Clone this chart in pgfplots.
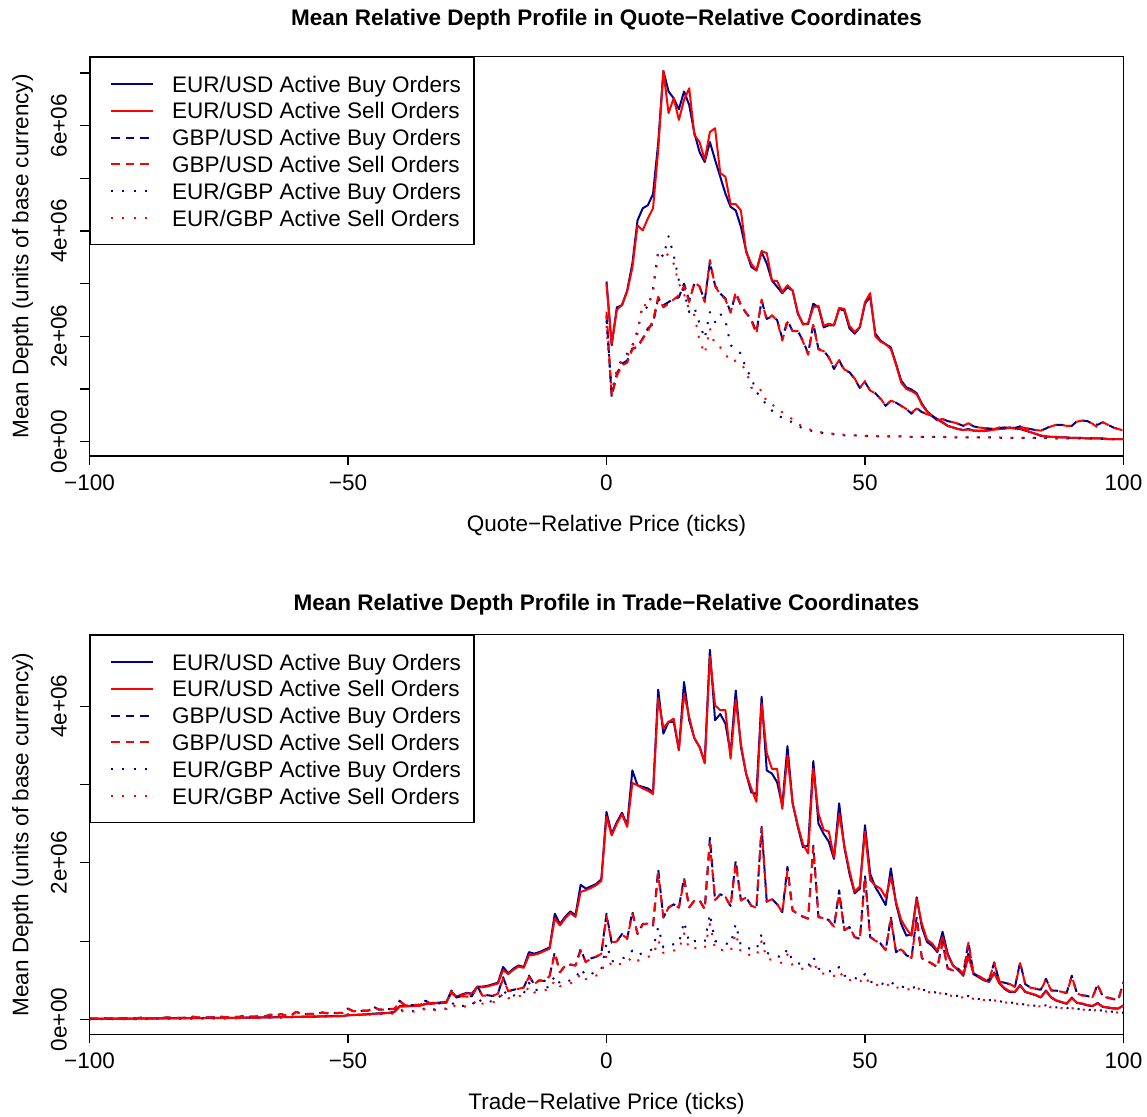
\documentclass[border=0pt]{standalone}
\usepackage{fontspec}
\setmainfont{Liberation Sans}
\usepackage{pgfplots}
\usepackage{pgfplotstable}
\pgfplotsset{compat=1.18}

\definecolor{buyblue}{HTML}{00008B}
\definecolor{sellred}{HTML}{FF0000}
\newcommand{\lblfont}{\fontsize{11.25}{13.4}\selectfont}

% Mean depth (millions of base currency) by quote-relative price
% columns: EUR/USD buy, sell; GBP/USD buy, sell; EUR/GBP buy, sell
\pgfplotstableread{
x eub eus gub gus egb egs
0 3.04 3.00 2.40 2.47 2.30 2.20
1 1.83 1.85 0.85 0.88 0.95 0.90
2 2.55 2.50 1.29 1.25 1.35 1.30
3 2.59 2.60 1.48 1.45 1.58 1.55
4 2.87 2.85 1.54 1.50 1.67 1.62
5 3.38 3.30 1.77 1.75 1.83 1.80
6 4.20 4.11 1.79 1.82 2.11 2.05
7 4.43 4.01 1.96 1.95 2.59 2.62
8 4.49 4.24 2.15 2.10 2.53 2.56
9 4.70 4.43 2.24 2.30 2.91 2.85
10 5.67 5.54 2.72 2.75 3.63 3.55
11 7.04 7.04 2.59 2.55 3.51 3.60
12 6.65 6.24 2.65 2.62 3.90 3.54
13 6.52 6.52 2.71 2.70 3.54 3.38
14 6.31 6.11 2.74 2.78 3.06 3.00
15 6.65 6.49 3.00 2.95 2.84 2.80
16 6.39 6.71 2.68 2.65 2.46 2.50
17 5.86 5.82 3.00 3.02 2.55 2.40
18 5.50 5.69 2.94 2.95 2.24 1.92
19 5.31 5.35 2.68 2.65 1.96 1.67
20 5.69 5.88 3.41 3.45 2.46 2.15
21 5.35 5.95 2.97 2.95 2.27 1.83
22 5.03 5.10 2.81 2.80 2.43 1.79
23 4.71 5.03 2.72 2.70 2.30 1.67
24 4.46 4.51 2.46 2.45 1.83 1.51
25 4.39 4.51 2.81 2.84 1.76 1.54
26 4.08 4.39 2.59 2.60 1.67 1.48
27 3.63 3.60 2.44 2.45 1.38 1.35
28 3.32 3.38 2.33 2.30 1.22 1.03
29 3.25 3.25 2.08 2.05 0.94 0.94
30 3.60 3.62 2.68 2.70 0.84 0.99
31 3.38 3.58 2.33 2.30 0.68 0.75
32 3.06 3.06 2.38 2.40 0.59 0.72
33 2.94 3.05 2.31 2.30 0.49 0.60
34 2.82 2.84 1.96 1.92 0.46 0.56
35 2.93 2.97 2.30 2.27 0.42 0.50
36 2.87 2.87 2.10 2.10 0.36 0.42
37 2.43 2.45 2.10 2.10 0.30 0.34
38 2.24 2.22 1.92 1.90 0.25 0.28
39 2.23 2.25 1.67 1.65 0.22 0.24
40 2.62 2.55 2.24 2.22 0.20 0.21
41 2.55 2.58 1.76 1.75 0.18 0.19
42 2.17 2.20 1.73 1.72 0.16 0.17
43 2.21 2.24 1.60 1.60 0.15 0.16
44 2.21 2.21 1.38 1.40 0.14 0.15
45 2.52 2.54 1.55 1.55 0.13 0.14
46 2.49 2.52 1.35 1.37 0.12 0.13
47 2.15 2.20 1.32 1.32 0.12 0.12
48 2.05 2.08 1.19 1.20 0.12 0.12
49 2.17 2.18 1.02 1.02 0.11 0.12
50 2.62 2.65 1.13 1.15 0.11 0.11
51 2.75 2.82 0.97 0.97 0.11 0.11
52 2.05 2.00 0.92 0.92 0.10 0.11
53 1.92 1.90 0.81 0.82 0.10 0.10
54 1.85 1.85 0.68 0.68 0.10 0.10
55 1.79 1.76 0.78 0.78 0.10 0.10
56 1.48 1.46 0.74 0.74 0.10 0.10
57 1.16 1.12 0.68 0.68 0.10 0.10
58 1.03 1.00 0.62 0.62 0.09 0.10
59 0.99 0.96 0.53 0.55 0.09 0.09
60 0.92 0.90 0.64 0.63 0.09 0.09
61 0.72 0.70 0.56 0.56 0.09 0.09
62 0.58 0.57 0.53 0.52 0.09 0.09
63 0.49 0.48 0.49 0.49 0.09 0.09
64 0.43 0.42 0.40 0.41 0.09 0.09
65 0.37 0.36 0.43 0.43 0.09 0.09
66 0.30 0.30 0.39 0.39 0.08 0.09
67 0.27 0.27 0.37 0.37 0.08 0.08
68 0.24 0.24 0.34 0.34 0.08 0.08
69 0.22 0.22 0.30 0.30 0.08 0.08
70 0.24 0.23 0.35 0.35 0.08 0.08
71 0.21 0.21 0.29 0.29 0.08 0.08
72 0.21 0.20 0.27 0.27 0.08 0.08
73 0.21 0.20 0.25 0.26 0.08 0.08
74 0.22 0.21 0.25 0.25 0.08 0.08
75 0.24 0.23 0.24 0.24 0.08 0.08
76 0.24 0.24 0.26 0.27 0.07 0.08
77 0.25 0.25 0.27 0.27 0.07 0.07
78 0.27 0.26 0.26 0.26 0.07 0.07
79 0.25 0.26 0.26 0.25 0.07 0.07
80 0.24 0.25 0.29 0.28 0.07 0.07
81 0.21 0.22 0.26 0.26 0.07 0.07
82 0.18 0.18 0.24 0.22 0.07 0.07
83 0.15 0.15 0.22 0.22 0.07 0.07
84 0.11 0.12 0.21 0.21 0.07 0.07
85 0.10 0.10 0.25 0.24 0.07 0.07
86 0.09 0.09 0.30 0.29 0.06 0.07
87 0.09 0.09 0.32 0.32 0.06 0.06
88 0.08 0.08 0.32 0.32 0.06 0.06
89 0.08 0.08 0.30 0.30 0.06 0.06
90 0.07 0.07 0.30 0.30 0.06 0.06
91 0.07 0.07 0.39 0.38 0.06 0.06
92 0.07 0.07 0.40 0.40 0.06 0.06
93 0.06 0.06 0.39 0.39 0.06 0.06
94 0.06 0.06 0.34 0.34 0.06 0.06
95 0.06 0.06 0.32 0.27 0.06 0.06
96 0.06 0.06 0.37 0.37 0.05 0.06
97 0.05 0.05 0.32 0.32 0.05 0.05
98 0.05 0.05 0.27 0.27 0.05 0.05
99 0.05 0.05 0.24 0.24 0.05 0.05
100 0.05 0.05 0.21 0.21 0.05 0.05
}\quotedata

% Mean depth (millions of base currency) by trade-relative price
\pgfplotstableread{
x eub eus gub gus egb egs
-100 0.010 0.008 0.012 0.010 0.004 0.003
-99 0.010 0.008 0.011 0.012 0.004 0.003
-98 0.010 0.009 0.012 0.011 0.004 0.004
-97 0.011 0.009 0.013 0.012 0.005 0.004
-96 0.011 0.009 0.012 0.013 0.005 0.004
-95 0.011 0.010 0.018 0.017 0.006 0.005
-94 0.012 0.010 0.014 0.013 0.005 0.005
-93 0.012 0.010 0.014 0.015 0.006 0.005
-92 0.012 0.011 0.015 0.014 0.006 0.005
-91 0.013 0.011 0.015 0.016 0.006 0.006
-90 0.013 0.012 0.024 0.022 0.008 0.007
-89 0.013 0.012 0.017 0.017 0.007 0.006
-88 0.014 0.012 0.018 0.017 0.007 0.007
-87 0.014 0.013 0.018 0.019 0.008 0.007
-86 0.015 0.013 0.019 0.018 0.008 0.007
-85 0.015 0.014 0.027 0.026 0.010 0.009
-84 0.016 0.014 0.021 0.020 0.009 0.008
-83 0.016 0.015 0.021 0.022 0.010 0.009
-82 0.017 0.015 0.022 0.021 0.010 0.009
-81 0.017 0.016 0.023 0.023 0.011 0.010
-80 0.018 0.017 0.036 0.034 0.013 0.012
-79 0.018 0.017 0.025 0.026 0.012 0.011
-78 0.019 0.018 0.026 0.025 0.013 0.012
-77 0.019 0.018 0.027 0.027 0.013 0.012
-76 0.020 0.019 0.028 0.028 0.014 0.013
-75 0.021 0.020 0.041 0.039 0.017 0.016
-74 0.021 0.020 0.030 0.031 0.015 0.014
-73 0.022 0.021 0.031 0.030 0.016 0.015
-72 0.022 0.021 0.032 0.033 0.017 0.016
-71 0.023 0.022 0.034 0.033 0.018 0.017
-70 0.024 0.023 0.052 0.050 0.022 0.020
-69 0.024 0.024 0.036 0.037 0.020 0.019
-68 0.025 0.024 0.038 0.037 0.021 0.020
-67 0.026 0.025 0.039 0.040 0.022 0.021
-66 0.027 0.026 0.041 0.040 0.023 0.022
-65 0.028 0.027 0.062 0.060 0.028 0.026
-64 0.029 0.028 0.045 0.046 0.026 0.024
-63 0.030 0.029 0.070 0.068 0.027 0.025
-62 0.031 0.030 0.050 0.051 0.028 0.027
-61 0.032 0.031 0.052 0.052 0.030 0.028
-60 0.034 0.033 0.100 0.096 0.036 0.034
-59 0.035 0.034 0.068 0.070 0.033 0.031
-58 0.036 0.035 0.070 0.069 0.035 0.033
-57 0.037 0.036 0.071 0.072 0.036 0.034
-56 0.038 0.037 0.073 0.072 0.038 0.036
-55 0.040 0.039 0.090 0.088 0.045 0.042
-54 0.041 0.040 0.078 0.080 0.041 0.039
-53 0.042 0.041 0.080 0.079 0.043 0.041
-52 0.043 0.042 0.082 0.083 0.045 0.043
-51 0.045 0.043 0.085 0.084 0.047 0.045
-50 0.055 0.053 0.140 0.135 0.065 0.060
-49 0.058 0.056 0.105 0.108 0.055 0.052
-48 0.061 0.059 0.108 0.107 0.058 0.055
-47 0.064 0.062 0.112 0.114 0.060 0.057
-46 0.068 0.066 0.115 0.114 0.063 0.060
-45 0.075 0.072 0.160 0.155 0.080 0.075
-44 0.078 0.075 0.125 0.128 0.072 0.068
-43 0.082 0.079 0.128 0.127 0.075 0.071
-42 0.086 0.083 0.132 0.134 0.078 0.074
-41 0.100 0.096 0.135 0.134 0.082 0.078
-40 0.170 0.165 0.240 0.232 0.130 0.120
-39 0.170 0.166 0.180 0.182 0.100 0.095
-38 0.175 0.170 0.182 0.180 0.104 0.098
-37 0.178 0.173 0.185 0.187 0.108 0.102
-36 0.180 0.176 0.190 0.188 0.112 0.106
-35 0.200 0.195 0.240 0.235 0.150 0.140
-34 0.210 0.205 0.200 0.203 0.125 0.118
-33 0.212 0.208 0.205 0.203 0.130 0.122
-32 0.218 0.212 0.208 0.210 0.135 0.127
-31 0.222 0.216 0.215 0.213 0.140 0.132
-30 0.350 0.340 0.370 0.360 0.220 0.200
-29 0.290 0.285 0.280 0.283 0.165 0.155
-28 0.320 0.312 0.300 0.298 0.172 0.162
-27 0.340 0.333 0.290 0.292 0.178 0.168
-26 0.330 0.325 0.300 0.298 0.185 0.175
-25 0.420 0.410 0.430 0.420 0.280 0.260
-24 0.420 0.412 0.300 0.303 0.215 0.202
-23 0.430 0.422 0.310 0.308 0.225 0.211
-22 0.450 0.440 0.300 0.303 0.235 0.220
-21 0.470 0.460 0.330 0.328 0.250 0.232
-20 0.670 0.630 0.540 0.520 0.380 0.340
-19 0.590 0.580 0.360 0.362 0.290 0.270
-18 0.650 0.635 0.380 0.378 0.305 0.285
-17 0.690 0.675 0.390 0.392 0.320 0.298
-16 0.670 0.660 0.410 0.408 0.335 0.312
-15 0.860 0.820 0.560 0.545 0.470 0.420
-14 0.840 0.825 0.450 0.452 0.370 0.345
-13 0.860 0.845 0.500 0.498 0.385 0.358
-12 0.890 0.875 0.490 0.492 0.400 0.372
-11 0.920 0.905 0.560 0.555 0.420 0.390
-10 1.350 1.290 0.860 0.840 0.560 0.500
-9 1.220 1.200 0.600 0.605 0.460 0.425
-8 1.310 1.290 0.690 0.685 0.480 0.445
-7 1.380 1.360 0.700 0.702 0.500 0.462
-6 1.330 1.310 0.690 0.688 0.520 0.480
-5 1.720 1.630 0.900 0.880 0.650 0.590
-4 1.670 1.650 0.730 0.735 0.560 0.515
-3 1.700 1.680 0.780 0.775 0.580 0.535
-2 1.730 1.715 0.800 0.805 0.610 0.560
-1 1.790 1.770 0.840 0.835 0.640 0.590
0 2.650 2.590 1.350 1.320 0.970 0.820
1 2.370 2.350 0.980 0.985 0.740 0.680
2 2.520 2.500 1.000 0.995 0.760 0.700
3 2.640 2.620 1.090 1.085 0.780 0.715
4 2.480 2.460 1.030 1.035 0.800 0.730
5 3.180 3.020 1.380 1.350 0.880 0.800
6 2.990 2.990 1.090 1.095 0.820 0.750
7 2.970 2.950 1.220 1.215 0.850 0.780
8 2.950 2.920 1.220 1.225 0.870 0.800
9 2.900 2.880 1.200 1.195 0.900 0.820
10 4.210 4.100 1.920 1.860 1.180 1.010
11 3.650 3.720 1.300 1.305 0.920 0.850
12 3.800 3.800 1.430 1.425 0.950 0.870
13 3.800 3.840 1.470 1.475 0.960 0.880
14 3.440 3.440 1.430 1.425 0.970 0.890
15 4.310 4.160 1.810 1.780 1.250 1.100
16 3.820 3.860 1.430 1.435 0.980 0.900
17 3.590 3.590 1.520 1.515 1.000 0.910
18 3.480 3.480 1.520 1.525 1.000 0.910
19 3.290 3.270 1.410 1.405 0.990 0.905
20 4.720 4.630 2.320 2.250 1.350 1.220
21 3.820 4.010 1.520 1.525 1.000 0.900
22 3.900 3.950 1.600 1.595 0.990 0.890
23 3.780 3.950 1.560 1.565 0.970 0.880
24 3.400 3.330 1.450 1.445 0.960 0.870
25 4.200 4.080 2.030 1.990 1.220 1.100
26 3.480 3.520 1.520 1.525 0.940 0.850
27 3.140 3.140 1.560 1.555 0.920 0.835
28 2.900 2.950 1.450 1.455 0.900 0.820
29 2.880 2.780 1.430 1.425 0.890 0.810
30 4.120 4.030 2.460 2.440 1.090 1.000
31 3.180 3.400 1.500 1.505 0.850 0.780
32 3.140 3.200 1.540 1.535 0.830 0.760
33 3.030 3.200 1.470 1.475 0.810 0.740
34 2.730 2.690 1.370 1.365 0.790 0.720
35 3.490 3.370 1.950 1.900 0.900 0.830
36 2.760 2.760 1.390 1.395 0.750 0.690
37 2.460 2.480 1.350 1.345 0.720 0.665
38 2.200 2.240 1.310 1.315 0.700 0.645
39 2.220 2.120 1.290 1.285 0.680 0.625
40 3.300 3.200 2.220 2.200 0.800 0.740
41 2.500 2.630 1.310 1.305 0.650 0.600
42 2.370 2.420 1.290 1.295 0.630 0.585
43 2.270 2.400 1.270 1.265 0.620 0.570
44 2.050 2.070 1.180 1.185 0.600 0.555
45 2.760 2.630 1.650 1.600 0.670 0.620
46 2.200 2.220 1.140 1.145 0.560 0.520
47 1.860 1.900 1.180 1.175 0.540 0.505
48 1.610 1.630 1.050 1.055 0.530 0.495
49 1.670 1.700 1.030 1.025 0.510 0.480
50 2.480 2.400 1.840 1.800 0.580 0.550
51 1.860 1.780 1.050 1.055 0.480 0.455
52 1.690 1.710 1.010 1.005 0.470 0.445
53 1.580 1.670 0.970 0.975 0.460 0.435
54 1.460 1.560 0.880 0.885 0.450 0.425
55 1.930 1.820 1.310 1.280 0.480 0.460
56 1.480 1.500 0.860 0.865 0.430 0.410
57 1.220 1.270 0.900 0.895 0.420 0.400
58 1.070 1.160 0.820 0.825 0.410 0.390
59 1.090 1.070 0.790 0.785 0.400 0.380
60 1.560 1.540 1.310 1.280 0.420 0.410
61 1.180 1.220 0.780 0.785 0.380 0.365
62 0.990 1.020 0.750 0.745 0.370 0.355
63 0.940 0.970 0.710 0.715 0.355 0.340
64 0.860 0.880 0.670 0.665 0.340 0.330
65 1.120 1.050 0.990 0.970 0.340 0.335
66 0.840 0.820 0.650 0.655 0.320 0.310
67 0.690 0.690 0.630 0.625 0.310 0.300
68 0.630 0.640 0.650 0.645 0.300 0.290
69 0.560 0.560 0.580 0.585 0.290 0.280
70 0.840 0.800 0.990 0.980 0.300 0.290
71 0.580 0.590 0.580 0.575 0.270 0.262
72 0.540 0.550 0.550 0.555 0.262 0.255
73 0.500 0.510 0.520 0.515 0.255 0.248
74 0.480 0.485 0.500 0.505 0.248 0.240
75 0.600 0.590 0.730 0.720 0.250 0.245
76 0.460 0.465 0.480 0.485 0.232 0.226
77 0.390 0.400 0.470 0.465 0.225 0.218
78 0.350 0.360 0.450 0.455 0.218 0.212
79 0.350 0.355 0.410 0.415 0.210 0.204
80 0.440 0.430 0.730 0.720 0.200 0.195
81 0.350 0.355 0.450 0.455 0.190 0.185
82 0.330 0.335 0.410 0.405 0.182 0.178
83 0.310 0.315 0.390 0.395 0.176 0.172
84 0.280 0.285 0.380 0.375 0.170 0.166
85 0.370 0.360 0.520 0.510 0.180 0.175
86 0.280 0.285 0.370 0.375 0.160 0.155
87 0.240 0.245 0.370 0.365 0.155 0.150
88 0.220 0.225 0.350 0.355 0.150 0.146
89 0.200 0.205 0.340 0.335 0.145 0.141
90 0.280 0.270 0.560 0.550 0.150 0.145
91 0.210 0.215 0.330 0.335 0.135 0.131
92 0.200 0.205 0.310 0.305 0.130 0.126
93 0.180 0.185 0.300 0.305 0.125 0.121
94 0.170 0.175 0.280 0.285 0.120 0.116
95 0.210 0.205 0.450 0.440 0.125 0.120
96 0.160 0.165 0.290 0.295 0.110 0.105
97 0.150 0.155 0.280 0.275 0.105 0.100
98 0.140 0.145 0.260 0.265 0.098 0.094
99 0.140 0.142 0.250 0.255 0.092 0.088
100 0.180 0.175 0.480 0.470 0.085 0.080
}\tradedata

\pgfplotsset{
  depthaxis/.style={
    scale only axis,
    width=517pt,
    xmin=-100, xmax=100,
    xtick={-100,-50,0,50,100},
    xticklabels={−100,−50,0,50,100},
    tick align=outside,
    major tick length=4.5pt,
    xtick pos=left, ytick pos=left,
    axis line style={line width=0.6pt},
    tick style={black, line width=0.6pt},
    tick label style={font=\lblfont, inner sep=0pt},
    xticklabel style={anchor=base, yshift=-12.8pt},
    yticklabel style={xshift=-6.9pt, rotate=90, anchor=base},
    legend cell align=left,
    legend style={at={(0,1)}, anchor=north west, draw=black,
      line width=0.6pt, fill=white,
      inner xsep=6.5pt, inner ysep=6.7pt, row sep=0pt, column sep=9pt,
      font=\lblfont,
      nodes={inner sep=0pt, text height=10.7pt, text depth=2.7pt}},
    legend image code/.code={\path (0pt,0pt); \draw[##1] (3.5pt,0pt) -- (24.5pt,0pt);},
    every axis plot/.append style={line width=1pt, line join=round},
  },
  dashedline/.style={dash pattern=on 4.3pt off 3pt},
  dottedline/.style={dash pattern=on 1pt off 4.6pt},
}

\begin{document}
\begin{tikzpicture}
\useasboundingbox (0,0) rectangle (573.5pt,558.5pt);

% Upper panel: quote-relative coordinates
\begin{axis}[depthaxis,
  at={(44.75pt,330.5pt)}, anchor=south west,
  height=199.65pt,
  ymin=-0.272, ymax=7.31,
  ytick={0,1,2,3,4,5,6,7},
  yticklabels={0e+00,,2e+06,,4e+06,,6e+06,},
]
\addplot[buyblue] table[x=x,y=eub]{\quotedata};
\addplot[sellred] table[x=x,y=eus]{\quotedata};
\addplot[buyblue, dashedline] table[x=x,y=gub]{\quotedata};
\addplot[sellred, dashedline] table[x=x,y=gus]{\quotedata};
\addplot[buyblue, dottedline] table[x=x,y=egb]{\quotedata};
\addplot[sellred, dottedline] table[x=x,y=egs]{\quotedata};
\legend{EUR/USD Active Buy Orders, EUR/USD Active Sell Orders,
  GBP/USD Active Buy Orders, GBP/USD Active Sell Orders,
  EUR/GBP Active Buy Orders, EUR/GBP Active Sell Orders}
\end{axis}

\node[font=\lblfont\bfseries, anchor=base] at (303.25pt,545.5pt)
  {Mean Relative Depth Profile in Quote−Relative Coordinates};
\node[font=\lblfont, anchor=base] at (303.25pt,292.75pt)
  {Quote−Relative Price (ticks)};
\node[font=\lblfont, rotate=90, anchor=base] at (14.2pt,430.3pt)
  {Mean Depth (units of base currency)};

% Lower panel: trade-relative coordinates
\begin{axis}[depthaxis,
  at={(44.75pt,41.35pt)}, anchor=south west,
  height=199.8pt,
  ymin=-0.189, ymax=4.913,
  ytick={0,1,2,3,4},
  yticklabels={0e+00,,2e+06,,4e+06},
]
\addplot[buyblue] table[x=x,y=eub]{\tradedata};
\addplot[sellred] table[x=x,y=eus]{\tradedata};
\addplot[buyblue, dashedline] table[x=x,y=gub]{\tradedata};
\addplot[sellred, dashedline] table[x=x,y=gus]{\tradedata};
\addplot[buyblue, dottedline] table[x=x,y=egb]{\tradedata};
\addplot[sellred, dottedline] table[x=x,y=egs]{\tradedata};
\legend{EUR/USD Active Buy Orders, EUR/USD Active Sell Orders,
  GBP/USD Active Buy Orders, GBP/USD Active Sell Orders,
  EUR/GBP Active Buy Orders, EUR/GBP Active Sell Orders}
\end{axis}

\node[font=\lblfont\bfseries, anchor=base] at (303.25pt,253pt)
  {Mean Relative Depth Profile in Trade−Relative Coordinates};
\node[font=\lblfont, anchor=base] at (303.25pt,3.6pt)
  {Trade−Relative Price (ticks)};
\node[font=\lblfont, rotate=90, anchor=base] at (14.2pt,141.25pt)
  {Mean Depth (units of base currency)};
\end{tikzpicture}
\end{document}
